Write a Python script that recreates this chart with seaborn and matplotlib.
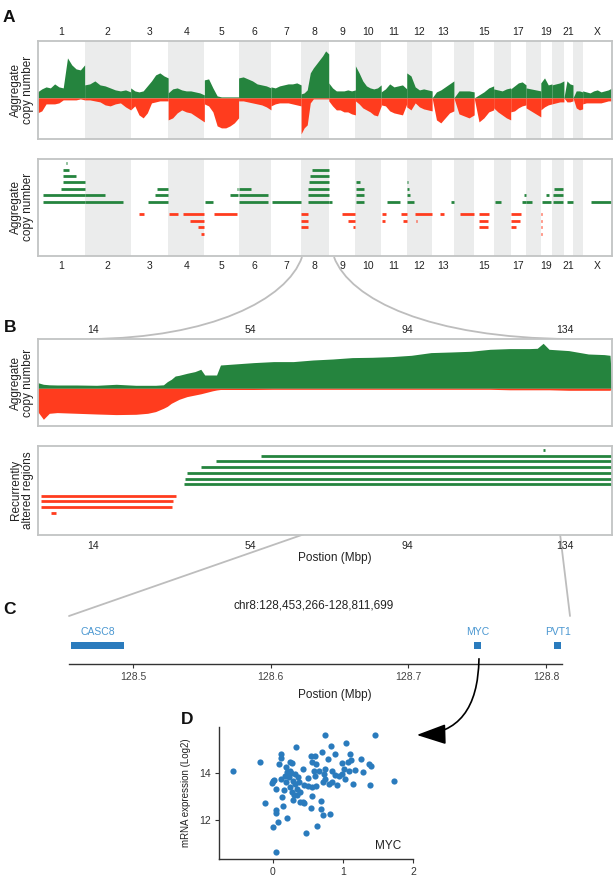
import numpy as np
import pandas as pd
import matplotlib
matplotlib.use("Agg")
import matplotlib.pyplot as plt
from matplotlib.patches import PathPatch, FancyArrowPatch
from matplotlib.path import Path
import seaborn as sns

# --- data ---------------------------------------------------------------
CHROMS = ['1', '2', '3', '4', '5', '6', '7', '8', '9', '10', '11', '12',
          '13', '14', '15', '16', '17', '18', '19', '20', '21', '22', 'X']
CHROM_LEN = [249, 243, 198, 191, 181, 171, 159, 146, 141, 136, 135, 134,
             115, 107, 103, 90, 81, 78, 59, 63, 48, 51, 155]
CHROM_LABELS = ['1', '2', '3', '4', '5', '6', '7', '8', '9', '10', '11', '12',
                '13', '15', '17', '19', '21', 'X']

# aggregate gain / loss per chromosome (evenly spaced along each chromosome)
gain_by_chrom = [
    [6, 9, 11, 10, 14, 11, 10, 40, 33, 29, 28, 33],
    [13, 14, 17, 13, 12, 10, 8, 7, 8, 6],
    [10, 7, 6, 7, 12, 17, 23, 25, 22, 20],
    [5, 9, 10, 8, 7, 7, 6, 5, 3],
    [18, 19, 10, 2, 1, 1, 1, 1, 1],
    [20, 21, 19, 17, 14, 13, 12, 10],
    [11, 10, 12, 13, 14, 14, 15, 13],
    [4, 5, 8, 25, 30, 34, 38, 42, 47, 44],
    [15, 10, 7, 7, 7, 8, 7, 8],
    [32, 25, 17, 12, 10, 9, 10, 13],
    [6, 9, 14, 11, 12, 13, 9],
    [25, 22, 11, 8, 9, 8, 7],
    [0, 6, 8, 11, 14, 17],
    [0, 7, 7, 7, 6],
    [0, 3, 6, 10, 12],
    [9, 8, 7, 9, 10],
    [9, 12, 15, 16, 13],
    [10, 9, 8, 7],
    [15, 20, 13, 14],
    [13, 14, 15, 17],
    [0, 17, 14, 13],
    [0, 7, 7, 6],
    [7, 6, 5, 7, 8, 6, 7, 8, 10],
]
loss_by_chrom = [
    [15, 13, 6, 6, 6, 5, 2, 2, 2, 2, 1, 2],
    [2, 2, 3, 4, 7, 8, 6, 5, 9, 12],
    [12, 8, 17, 20, 15, 5, 4, 3, 3, 3],
    [22, 20, 15, 12, 14, 15, 18, 21, 24],
    [6, 8, 14, 28, 30, 30, 28, 25, 20],
    [3, 3, 4, 5, 6, 7, 9, 12],
    [8, 6, 5, 5, 5, 6, 7, 8],
    [36, 30, 27, 5, 1, 1, 1, 1, 1, 1],
    [3, 8, 12, 12, 14, 14, 16, 17],
    [3, 6, 10, 12, 14, 17, 18, 8],
    [7, 8, 13, 15, 16, 17, 6],
    [9, 12, 5, 9, 11, 12, 13],
    [0, 22, 25, 20, 15, 13],
    [0, 16, 18, 20, 17],
    [0, 24, 20, 14, 12],
    [10, 14, 17, 20, 22],
    [14, 13, 10, 8, 7],
    [10, 13, 16, 19],
    [12, 9, 7, 6],
    [6, 5, 4, 4],
    [0, 4, 4, 3],
    [0, 10, 12, 11],
    [6, 5, 5, 5, 5, 5, 4, 3, 3],
]

# recurrent regions genome-wide: (chrom, start Mb, end Mb, level; >0 gain, <0 loss)
recurrent_a = [
    ('1', 31, 249, 1), ('2', 0, 204, 1), ('3', 93, 198, 1), ('5', 3, 47, 1),
    ('6', 1, 156, 1), ('7', 3, 159, 1), ('8', 37, 146, 1), ('9', 0, 19, 1),
    ('10', 2, 46, 1), ('11', 33, 98, 1), ('12', 1, 37, 1), ('13', 102, 115, 1),
    ('16', 5, 41, 1), ('17', 61, 81, 1), ('18', 0, 33, 1), ('19', 8, 55, 1),
    ('20', 5, 58, 1), ('21', 16, 48, 1), ('X', 46, 153, 1),
    ('1', 31, 249, 2), ('2', 0, 107, 2), ('3', 128, 198, 2), ('5', 135, 179, 2),
    ('6', 1, 156, 2), ('8', 37, 146, 2), ('10', 2, 46, 2), ('12', 1, 15, 2),
    ('17', 68, 81, 2), ('19', 29, 43, 2), ('20', 5, 60, 2),
    ('1', 124, 249, 3), ('3', 137, 198, 3), ('5', 170, 179, 3), ('6', 2, 68, 3),
    ('8', 38, 146, 3), ('10', 2, 46, 3), ('12', 1, 10, 3), ('20', 10, 60, 3),
    ('1', 136, 249, 4), ('8', 42, 146, 4), ('10', 2, 23, 4), ('12', 1, 5, 4),
    ('1', 136, 202, 5), ('8', 45, 146, 5),
    ('1', 136, 168, 6), ('8', 57, 146, 6),
    ('1', 150, 157, 7),
    ('3', 44, 72, -1), ('4', 4, 50, -1), ('4', 80, 190, -1), ('5', 52, 175, -1),
    ('8', 0, 35, -1), ('9', 72, 141, -1), ('11', 3, 28, -1), ('11', 107, 135, -1),
    ('12', 46, 134, -1), ('13', 44, 61, -1), ('14', 31, 106, -1),
    ('15', 25, 78, -1), ('17', 3, 52, -1), ('19', 0, 4, -1),
    ('4', 115, 190, -2), ('8', 0, 34, -2), ('9', 102, 141, -2), ('11', 3, 20, -2),
    ('11', 113, 135, -2), ('12', 50, 55, -2), ('15', 25, 75, -2),
    ('17', 3, 48, -2), ('19', 0, 4, -2),
    ('4', 155, 190, -3), ('8', 0, 34, -3), ('9', 130, 141, -3),
    ('15', 25, 75, -3), ('17', 3, 30, -3), ('19', 0, 4, -3),
    ('4', 173, 190, -4), ('19', 0, 4, -4),
]

# chromosome 8 zoom
chr8_pos = [0, 1.5, 3, 5, 10, 15, 20, 25, 28, 30, 32, 33, 34, 35, 36, 38, 40,
            41.5, 42.5, 44.5, 45.5, 46.5, 50, 55, 60, 65, 70, 75, 80, 85, 90,
            95, 100, 105, 110, 115, 120, 125, 127, 128.5, 130, 135, 140, 144,
            145.5, 146]
chr8_gain = [5.7, 4, 3.5, 3.3, 3.3, 3, 4, 3, 3, 3, 3.5, 6.7, 9, 12.3, 13, 15,
             16.7, 19, 13.3, 13.3, 13.3, 23.3, 24.3, 25.7, 26.7, 26.7, 28.3,
             29.3, 30.7, 31, 31.7, 33, 35.7, 36.3, 37, 39, 39.7, 39.7, 40, 45,
             39, 37.7, 34.3, 33.7, 33, 0]
chr8_loss = [23, 31, 25, 24.3, 25, 25.7, 26.3, 26, 25, 23.3, 20, 18, 15, 13,
             11, 8.3, 6.7, 5.5, 4.5, 2.5, 1.7, 1.2, 1.2, 1.2, 1, 1, 1, 1, 1, 1,
             1, 1, 1, 1, 1, 1, 1.5, 1.5, 1.5, 1.5, 1.5, 2, 2, 2, 2, 0]
chr8_ticks = [14, 54, 94, 134]

recurrent_b = [
    (37.2, 146, 1), (37.4, 146, 2), (38, 146, 3), (41.6, 146, 4),
    (45.4, 146, 5), (56.9, 146, 6), (128.5, 129.1, 7),
    (0.9, 35.2, -1), (0.9, 34.5, -2), (0.9, 34.1, -3), (3.5, 4.6, -4),
]

# genes in the MYC locus
region_start, region_end = 128.453266, 128.811699
gene_names = ['CASC8', 'MYC', 'PVT1']
gene_start = [128.4545, 128.7478, 128.8060]
gene_end = [128.4935, 128.7529, 128.8112]

# MYC copy number vs expression
myc_cn = [-0.57, -0.18, -0.11, 0.05, 0.0, 0.07, 0.05, 0.04, -0.02, 0.01, 0.04,
          0.0, 0.12, 0.09, 0.11, 0.13, 0.15, 0.20, 0.18, 0.17, 0.19, 0.25,
          0.23, 0.25, 0.27, 0.29, 0.26, 0.29, 0.32, 0.33, 0.31, 0.35, 0.36,
          0.37, 0.35, 0.39, 0.43, 0.45, 0.43, 0.47, 0.50, 0.54, 0.56, 0.50,
          0.55, 0.60, 0.56, 0.61, 0.58, 0.60, 0.61, 0.56, 0.63, 0.68, 0.69,
          0.71, 0.70, 0.75, 0.74, 0.71, 0.75, 0.79, 0.80, 0.82, 0.83, 0.84,
          0.85, 0.88, 0.89, 0.91, 0.94, 0.98, 0.99, 1.01, 1.03, 1.04, 1.07,
          1.08, 1.10, 1.12, 1.15, 1.17, 1.26, 1.29, 1.37, 1.40, 1.39, 1.46,
          1.73, 0.20, 0.16, 0.30, 0.24, 0.39, 0.45, 0.12, 0.66, 0.73, 0.27]
myc_expr = [14.07, 14.48, 12.73, 10.64, 11.72, 11.93, 12.42, 12.31, 13.57,
            13.72, 13.33, 13.65, 14.80, 14.38, 14.63, 12.98, 12.59, 12.07,
            13.61, 13.89, 14.24, 14.45, 13.82, 13.40, 13.19, 12.84, 13.99,
            13.68, 13.96, 15.12, 13.54, 13.33, 13.82, 13.61, 13.05, 12.77,
            12.77, 12.73, 14.17, 11.44, 13.79, 12.53, 13.01, 13.43, 14.73,
            14.73, 14.49, 14.38, 14.10, 13.89, 13.43, 13.40, 11.75, 12.80,
            12.49, 12.21, 14.91, 15.64, 14.17, 13.61, 13.75, 14.59, 13.54,
            12.24, 15.15, 14.10, 13.61, 14.80, 13.92, 13.47, 13.89, 14.41,
            13.96, 14.17, 13.75, 15.29, 14.45, 14.10, 14.80, 14.55, 13.54,
            14.13, 14.59, 14.03, 14.38, 14.31, 13.47, 15.64, 13.65, 14.03,
            13.26, 13.05, 14.10, 13.19, 13.47, 13.75, 14.10, 13.96, 14.42]

# --- style ----------------------------------------------------------------
sns.set_style("white")
plt.rcParams['font.family'] = ['Liberation Sans', 'DejaVu Sans']

GREEN = '#25843e'
RED = '#ff3c1e'
SHADE = '#ebecec'
FRAME = '#c2c4c4'
BLUE = '#2a7bbd'
LBLUE = '#4a97d1'
LINK = '#bdbdbd'
TXT = '#222222'

W, H = 616, 884
fig = plt.figure(figsize=(W / 100, H / 100), dpi=100)


def px_axes(x0, y0, x1, y1):
    return fig.add_axes([x0 / W, 1 - y1 / H, (x1 - x0) / W, (y1 - y0) / H])


def fpt(x, y):
    return (x / W, 1 - y / H)


offsets = np.concatenate([[0], np.cumsum(CHROM_LEN)[:-1]])
genome_len = sum(CHROM_LEN)
chrom_off = dict(zip(CHROMS, offsets))
chrom_mid = dict(zip(CHROMS, offsets + np.array(CHROM_LEN) / 2))


def frame(ax, color=FRAME, lw=1.3):
    for s in ax.spines.values():
        s.set_visible(True)
        s.set_color(color)
        s.set_linewidth(lw)


def shade(ax):
    for i, c in enumerate(CHROMS):
        if i % 2 == 1:
            ax.axvspan(chrom_off[c], chrom_off[c] + CHROM_LEN[i],
                       color=SHADE, lw=0, zorder=0)


def side_label(ax_ycenter, text):
    fig.text(22 / W, 1 - ax_ycenter / H, text, rotation=90, ha='center',
             va='center', fontsize=8.5, color=TXT, multialignment='center',
             linespacing=1.05)


# --- A: genome-wide aggregate -------------------------------------------
ax1 = px_axes(37.5, 41.3, 612, 138.7)
shade(ax1)
for i, c in enumerate(CHROMS):
    xs = chrom_off[c] + np.linspace(0, CHROM_LEN[i], len(gain_by_chrom[i]))
    ax1.fill_between(xs, 0, gain_by_chrom[i], color=GREEN, lw=0, zorder=2)
    ax1.fill_between(xs, -np.array(loss_by_chrom[i]), 0, color=RED, lw=0,
                     zorder=2)
ax1.set_xlim(0, genome_len)
ax1.set_ylim(-40.8, 56.6)
ax1.set_yticks([])
ax1.xaxis.tick_top()
ax1.set_xticks([chrom_mid[c] for c in CHROM_LABELS])
ax1.set_xticklabels(CHROM_LABELS)
ax1.tick_params(axis='x', length=0, labelsize=7.5, pad=3, colors=TXT)
frame(ax1)
side_label(90, "Aggregate\ncopy number")

df_a = pd.DataFrame(recurrent_a, columns=['chrom', 'start', 'end', 'level'])
df_a['gstart'] = df_a['chrom'].map(chrom_off) + df_a['start']
df_a['gend'] = df_a['chrom'].map(chrom_off) + df_a['end']
ax2 = px_axes(37.5, 159, 612, 255.7)
shade(ax2)
for sign, col in [(1, GREEN), (-1, RED)]:
    d = df_a[np.sign(df_a['level']) == sign]
    ax2.hlines(d['level'], d['gstart'], d['gend'], color=col, lw=2.0,
               capstyle='butt', zorder=2)
ax2.set_xlim(0, genome_len)
ax2.set_ylim(-7.44, 7.67)
ax2.set_yticks([])
ax2.set_xticks([chrom_mid[c] for c in CHROM_LABELS])
ax2.set_xticklabels(CHROM_LABELS)
ax2.tick_params(axis='x', length=0, labelsize=7.5, pad=4, colors=TXT)
frame(ax2)
side_label(207, "Aggregate\ncopy number")

# --- B: chromosome 8 ------------------------------------------------------
ax3 = px_axes(37.5, 339.3, 612, 426)
ax3.fill_between(chr8_pos, 0, chr8_gain, color=GREEN, lw=0)
ax3.fill_between(chr8_pos, -np.array(chr8_loss), 0, color=RED, lw=0)
ax3.set_xlim(0, 146)
ax3.set_ylim(-37.7, 49)
ax3.set_yticks([])
ax3.xaxis.tick_top()
ax3.set_xticks(chr8_ticks)
ax3.tick_params(axis='x', length=0, labelsize=7.5, pad=3, colors=TXT)
frame(ax3)
side_label(383, "Aggregate\ncopy number")

df_b = pd.DataFrame(recurrent_b, columns=['start', 'end', 'level'])
ax4 = px_axes(37.5, 446, 612, 535)
for sign, col in [(1, GREEN), (-1, RED)]:
    d = df_b[np.sign(df_b['level']) == sign]
    ax4.hlines(d['level'], d['start'], d['end'], color=col, lw=2.0,
               capstyle='butt')
ax4.set_xlim(0, 146)
ax4.set_ylim(-7.87, 7.69)
ax4.set_yticks([])
ax4.set_xticks(chr8_ticks)
ax4.tick_params(axis='x', length=0, labelsize=7.5, pad=4, colors=TXT)
frame(ax4)
side_label(490, "Recurrently\naltered regions")
fig.text(335 / W, 1 - 558 / H, "Postion (Mbp)", ha='center', va='center',
         fontsize=8.5, color=TXT)

# --- C: MYC locus -----------------------------------------------------------
ax5 = px_axes(69, 620, 562, 664)
for s in ['top', 'left', 'right']:
    ax5.spines[s].set_visible(False)
ax5.spines['bottom'].set_color('#333333')
ax5.spines['bottom'].set_linewidth(1.0)
for name, g0, g1 in zip(gene_names, gene_start, gene_end):
    ax5.barh(0.41, g1 - g0, left=g0, height=0.16, color=BLUE, lw=0)
    ax5.text((g0 + g1) / 2, 0.73, name, ha='center', va='center',
             fontsize=7.5, color=LBLUE)
ax5.set_xlim(region_start, region_end)
ax5.set_ylim(0, 1)
ax5.set_yticks([])
ax5.set_xticks([128.5, 128.6, 128.7, 128.8])
ax5.set_xticklabels(['128.5', '128.6', '128.7', '128.8'])
ax5.tick_params(axis='x', length=3, width=0.8, labelsize=7.5, pad=3,
                colors='#333333', labelcolor='#444444', bottom=True)
ax5.set_facecolor('none')
fig.text(314 / W, 1 - 605 / H, "chr8:128,453,266-128,811,699", ha='center',
         va='center', fontsize=8.5, color=TXT)
fig.text(335 / W, 1 - 695 / H, "Postion (Mbp)", ha='center', va='center',
         fontsize=8.5, color=TXT)

# --- D: MYC expression ------------------------------------------------------
df_d = pd.DataFrame({'cn': myc_cn, 'expr': myc_expr})
ax6 = px_axes(219, 727, 413, 859)
sns.scatterplot(data=df_d, x='cn', y='expr', ax=ax6, color=BLUE, s=20,
                linewidth=0, legend=False)
ax6.set_xlim(-0.77, 2.0)
ax6.set_ylim(10.34, 15.96)
ax6.set_xticks([0, 1, 2])
ax6.set_yticks([12, 14])
ax6.set_xlabel("")
ax6.set_ylabel("mRNA expression (Log2)", fontsize=7, color=TXT, labelpad=6)
sns.despine(ax=ax6)
for s in ['left', 'bottom']:
    ax6.spines[s].set_color('#333333')
    ax6.spines[s].set_linewidth(1.0)
ax6.tick_params(length=3, width=0.8, labelsize=7.5, colors='#333333',
                left=True, bottom=True, pad=3)
ax6.text(0.87, 0.1, "MYC", transform=ax6.transAxes, ha='center', va='center',
         fontsize=8.5, color=TXT)

# --- panel letters ----------------------------------------------------------
for letter, x, y in [('A', 9, 17), ('B', 10, 327), ('C', 10, 610),
                     ('D', 187, 720)]:
    fig.text(x / W, 1 - y / H, letter, ha='center', va='center',
             fontsize=12.5, fontweight='bold', color='#111111')

# --- connectors -------------------------------------------------------------
curves = [
    [(302, 257), (287, 300), (210, 338), (90, 339)],
    [(334, 257), (350, 300), (430, 338), (570, 339)],
]
for pts in curves:
    path = Path([fpt(*p) for p in pts],
                [Path.MOVETO, Path.CURVE4, Path.CURVE4, Path.CURVE4])
    fig.add_artist(PathPatch(path, transform=fig.transFigure, fill=False,
                             edgecolor=LINK, lw=1.3, zorder=0))
for (xa, ya), (xb, yb) in [((543, 451), (69, 616)), ((550, 451), (570, 616))]:
    fig.add_artist(plt.Line2D([xa / W, xb / W], [1 - ya / H, 1 - yb / H],
                              transform=fig.transFigure, color=LINK, lw=1.3,
                              zorder=0))

arrow = FancyArrowPatch(fpt(479, 656), fpt(414, 735),
                        transform=fig.transFigure,
                        connectionstyle="angle3,angleA=90,angleB=0",
                        arrowstyle="-|>,head_length=1.3,head_width=0.45",
                        mutation_scale=14, lw=1.2, color='black')
fig.add_artist(arrow)

fig.savefig("out.png", dpi=100)
